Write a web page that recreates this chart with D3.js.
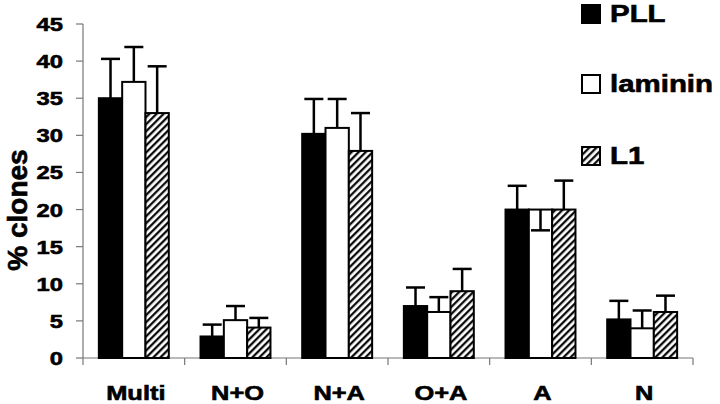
<!DOCTYPE html>
<html><head><meta charset="utf-8">
<script src="https://cdn.jsdelivr.net/npm/d3@7"></script>
<style>body{margin:0;background:#fff}svg{display:block}text{font-family:"Liberation Sans",Arial,sans-serif;font-weight:bold;fill:#000;stroke:#000;stroke-width:0.6px}</style>
</head><body><svg id="c" width="720" height="404"></svg>
<script>
const categories = ["Multi","N+O","N+A","O+A","A","N"];
const seriesNames = ["PLL","laminin","L1"];
const pllValues = [35, 2.9, 30.2, 7.0, 20, 5.2];
const lamininValues = [37.2, 5.1, 31.0, 6.2, 20, 4.0];
const l1Values = [33.0, 4.1, 27.9, 9.0, 20, 6.2];
const pllErrEnd = [40.3, 4.5, 34.9, 9.5, 23.2, 7.7];
const lamininErrEnd = [41.9, 7.0, 34.9, 8.2, 17.2, 6.4];
const l1ErrEnd = [39.3, 5.4, 33.0, 12.0, 23.9, 8.4];
const yTicks = [0,5,10,15,20,25,30,35,40,45];

const values = [pllValues, lamininValues, l1Values];
const errEnds = [pllErrEnd, lamininErrEnd, l1ErrEnd];
const fills = ["#000","#fff","url(#hatch)"];

const svg = d3.select("#c");
const defs = svg.append("defs");
const pat = defs.append("pattern").attr("id","hatch").attr("patternUnits","userSpaceOnUse")
  .attr("width",5).attr("height",5).attr("patternTransform","rotate(45)");
pat.append("rect").attr("width",5).attr("height",5).attr("fill","#fff");
pat.append("line").attr("x1",1.2).attr("y1",0).attr("x2",1.2).attr("y2",5).attr("stroke","#000").attr("stroke-width",2.2);

const x0 = 83, x1 = 693, yTop = 24, yBot = 358;
const x = d3.scaleBand().domain(categories).range([x0,x1]).padding(0);
const xs = d3.scaleBand().domain(seriesNames).range([0,x.bandwidth()]).paddingInner(0).paddingOuter(0.68);
const y = d3.scaleLinear().domain([0,45]).range([yBot,yTop]);

// y axis
const g = svg.append("g");
g.append("line").attr("x1",x0).attr("x2",x0).attr("y1",yTop).attr("y2",yBot).attr("stroke","#777").attr("stroke-width",1.2);
g.selectAll(".yt").data(yTicks).join("line").attr("x1",x0-7).attr("x2",x0).attr("y1",d=>y(d)).attr("y2",d=>y(d)).attr("stroke","#777").attr("stroke-width",1.2);
g.selectAll(".yl").data(yTicks).join("text")
  .attr("transform",d=>`translate(63,${y(d)+7}) scale(1.25,1)`)
  .attr("text-anchor","end").attr("font-size",19).text(d=>d);

// x axis
g.append("line").attr("x1",x0).attr("x2",x1).attr("y1",yBot).attr("y2",yBot).attr("stroke","#777").attr("stroke-width",1.2);
const bounds = categories.map(c=>x(c)).concat([x1]);
g.selectAll(".xt").data(bounds).join("line").attr("x1",d=>d).attr("x2",d=>d).attr("y1",yBot).attr("y2",yBot+7).attr("stroke","#777").attr("stroke-width",1.2);
g.selectAll(".xl").data(categories).join("text")
  .attr("transform",d=>`translate(${x(d)+x.bandwidth()/2+2},400) scale(1.27,1)`)
  .attr("text-anchor","middle").attr("font-size",20).text(d=>d);

function errLines(sg, idx, s, si){
  sg.selectAll(".e").data(idx).join("line")
    .attr("x1",i=>x(categories[i])+xs(s)+xs.bandwidth()/2).attr("x2",i=>x(categories[i])+xs(s)+xs.bandwidth()/2)
    .attr("y1",i=>y(values[si][i])).attr("y2",i=>y(errEnds[si][i]))
    .attr("stroke","#000").attr("stroke-width",2.5);
  sg.selectAll(".cap").data(idx).join("line")
    .attr("x1",i=>x(categories[i])+xs(s)+xs.bandwidth()/2-9.5).attr("x2",i=>x(categories[i])+xs(s)+xs.bandwidth()/2+9.5)
    .attr("y1",i=>y(errEnds[si][i])).attr("y2",i=>y(errEnds[si][i]))
    .attr("stroke","#000").attr("stroke-width",2.5);
}
// error bars above bars
seriesNames.forEach((s,si)=>{
  errLines(svg.append("g"), categories.map((c,i)=>i), s, si);
});
seriesNames.forEach((s,si)=>{
  svg.append("g").selectAll("rect").data(categories).join("rect")
    .attr("x",c=>x(c)+xs(s)).attr("width",xs.bandwidth())
    .attr("y",(c,i)=>y(values[si][i])).attr("height",(c,i)=>yBot-y(values[si][i]))
    .attr("fill",fills[si]).attr("stroke","#000").attr("stroke-width",2);
});
// downward error bars drawn over their bar
seriesNames.forEach((s,si)=>{
  const idx = categories.map((c,i)=>i).filter(i=>errEnds[si][i] < values[si][i]);
  errLines(svg.append("g"), idx, s, si);
});

// y title
svg.append("text").attr("transform","translate(27,210) rotate(-90) scale(1.12,1.1)")
  .attr("text-anchor","middle").attr("font-size",25).text("% clones");

// legend
const legY = [5, 75, 147];
const lg = svg.append("g");
lg.selectAll("rect").data(seriesNames).join("rect")
  .attr("x",582).attr("y",(d,i)=>legY[i]).attr("width",18).attr("height",18)
  .attr("fill",(d,i)=>fills[i]).attr("stroke","#000").attr("stroke-width",2);
lg.selectAll("text").data(seriesNames).join("text")
  .attr("transform",(d,i)=>`translate(610,${legY[i]+17}) scale(1.28,1)`)
  .attr("font-size",23).text(d=>d);
</script></body></html>
